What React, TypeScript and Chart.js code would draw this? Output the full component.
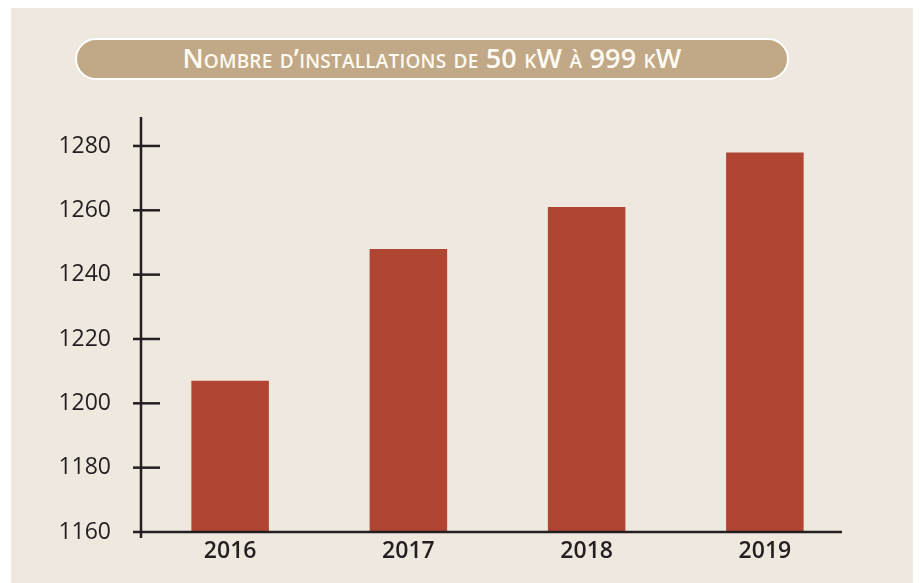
import React, { useEffect, useRef } from "react";
import { Chart, registerables } from "chart.js";

Chart.register(...registerables);

const TITLE = "Nombre d’installations de 50 kW à 999 kW";
const YEARS = ["2016", "2017", "2018", "2019"];
const INSTALLATIONS = [1207, 1248, 1261, 1278];
const Y_TICKS = [1160, 1180, 1200, 1220, 1240, 1260, 1280];
const Y_MIN = 1160;
const Y_MAX = 1289;

const BAR_COLOR = "#b04532";
const BG = "#efe8df";
const INK = "#231f20";

const axisPlugin = {
  id: "crossAxes",
  afterDatasetsDraw(chart: any) {
    const { ctx, chartArea, scales } = chart;
    const x0 = chartArea.left;
    const yb = scales.y.getPixelForValue(Y_MIN);
    ctx.save();
    ctx.strokeStyle = INK;
    ctx.lineWidth = 2.5;
    ctx.lineCap = "butt";
    ctx.beginPath();
    ctx.moveTo(x0, chartArea.top);
    ctx.lineTo(x0, yb + 6);
    ctx.stroke();
    ctx.beginPath();
    ctx.moveTo(x0 - 8, yb);
    ctx.lineTo(chartArea.right - 12, yb);
    ctx.stroke();
    Y_TICKS.forEach((v) => {
      if (v === Y_MIN) return;
      const y = scales.y.getPixelForValue(v);
      ctx.beginPath();
      ctx.moveTo(x0 - 8, y);
      ctx.lineTo(x0 + 19, y);
      ctx.stroke();
    });
    ctx.restore();
  },
};

export default function App() {
  const ref = useRef<HTMLCanvasElement | null>(null);

  useEffect(() => {
    const prevMargin = document.body.style.margin;
    document.body.style.margin = "0";
    if (!ref.current) return;
    const chart = new Chart(ref.current, {
      type: "bar",
      data: {
        labels: YEARS,
        datasets: [
          {
            data: INSTALLATIONS,
            backgroundColor: BAR_COLOR,
            borderWidth: 0,
            barPercentage: 0.435,
            categoryPercentage: 1,
          },
        ],
      },
      options: {
        responsive: false,
        animation: false,
        layout: { padding: { left: 1, right: 66, top: 117, bottom: 0 } },
        plugins: {
          legend: { display: false },
          title: { display: false },
          tooltip: { enabled: false },
        },
        scales: {
          x: {
            grid: { display: false, drawTicks: false },
            border: { display: false },
            ticks: {
              color: INK,
              padding: 6,
              font: { family: "'Open Sans'", size: 23, weight: "600" },
            },
            afterFit(scale: any) {
              scale.height = 51;
            },
          },
          y: {
            min: Y_MIN,
            max: Y_MAX,
            grid: { display: false, drawTicks: false },
            border: { display: false },
            afterBuildTicks(scale: any) {
              scale.ticks = Y_TICKS.map((v) => ({ value: v }));
            },
            ticks: {
              color: INK,
              padding: 30,
              callback: (v: any) => String(v),
              font: { family: "'Open Sans'", size: 23, weight: "500" },
            },
            afterFit(scale: any) {
              scale.width = 140;
            },
          },
        },
      },
      plugins: [axisPlugin],
    });
    return () => {
      chart.destroy();
      document.body.style.margin = prevMargin;
    };
  }, []);

  return (
    <div
      style={{
        position: "fixed",
        left: 0,
        top: 0,
        width: 920,
        height: 583,
        background: "#ffffff",
        overflow: "hidden",
      }}
    >
      <div
        style={{
          position: "absolute",
          left: 11,
          top: 8,
          width: 902,
          height: 575,
          background: BG,
        }}
      />
      <div
        style={{
          position: "absolute",
          left: 75,
          top: 38,
          width: 714,
          height: 42,
          boxSizing: "border-box",
          borderRadius: 21,
          border: "2px solid #ffffff",
          background: "#c1a886",
          display: "flex",
          alignItems: "center",
          justifyContent: "center",
          color: "#fffaf2",
          fontFamily: "'Open Sans', sans-serif",
          fontVariant: "small-caps",
          fontWeight: 600,
          fontSize: 27,
          letterSpacing: 0.2,
          lineHeight: 1,
          paddingBottom: 3,
        }}
      >
        {TITLE}
      </div>
      <canvas
        ref={ref}
        width={920}
        height={583}
        style={{ position: "absolute", left: 0, top: 0 }}
      />
    </div>
  );
}
